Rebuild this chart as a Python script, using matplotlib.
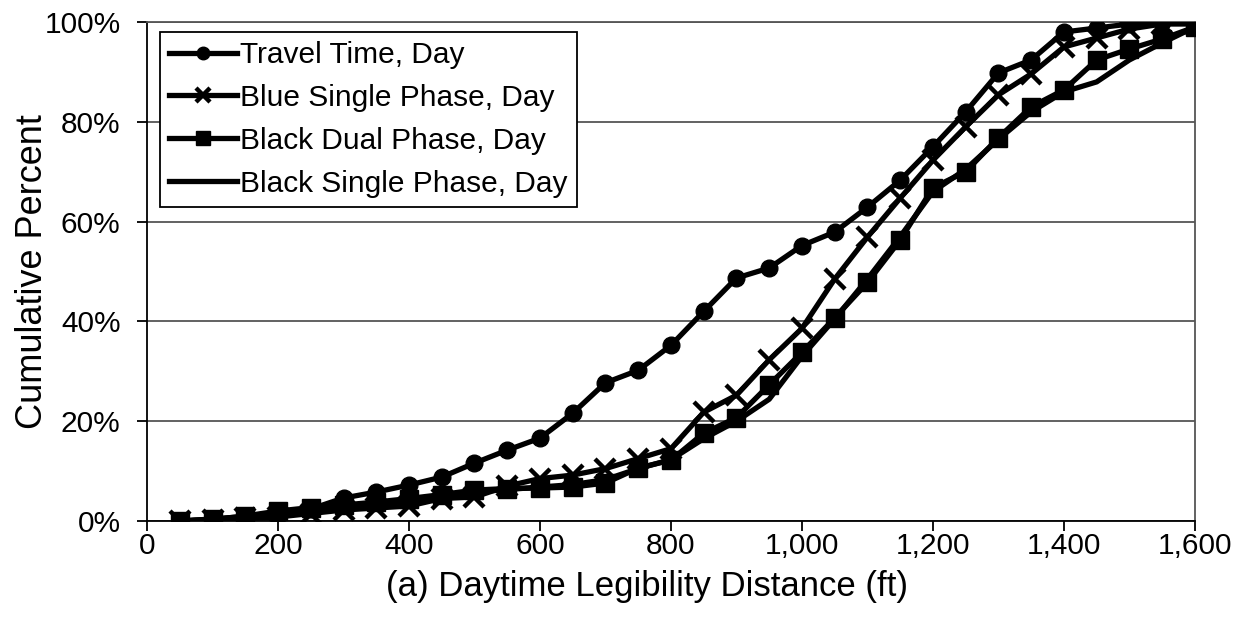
import matplotlib
matplotlib.use("Agg")
import matplotlib.pyplot as plt
from matplotlib.ticker import FuncFormatter, MultipleLocator

plt.rcParams['font.family'] = ['Liberation Sans', 'DejaVu Sans']

distance = [50, 100, 150, 200, 250, 300, 350, 400, 450, 500, 550, 600, 650, 700, 750, 800,
            850, 900, 950, 1000, 1050, 1100, 1150, 1200, 1250, 1300, 1350, 1400, 1450, 1500, 1550, 1600]

travel_time = [0, 0.4, 0.9, 1.6, 2.4, 4.6, 5.8, 7.2, 8.8, 11.6, 14.2, 16.6, 21.6, 27.7, 30.2, 35.2,
               42.0, 48.7, 50.7, 55.2, 57.9, 62.9, 68.3, 75.0, 82.0, 89.8, 92.4, 98.0, 98.8, 99.6, 100, 100]

blue_single = [0, 0.2, 0.5, 0.8, 1.5, 2.2, 2.6, 3.0, 4.5, 4.8, 7.0, 8.5, 9.2, 10.5, 12.5, 14.5,
               21.8, 25.2, 32.3, 38.6, 48.5, 56.9, 64.7, 72.3, 79.0, 85.4, 89.6, 95.0, 96.8, 98.6, 99.6, 99.6]

black_dual = [0, 0.3, 1.0, 2.0, 2.7, 3.2, 3.8, 4.5, 5.3, 6.2, 6.5, 6.6, 6.8, 7.6, 10.6, 12.2,
              17.6, 20.7, 27.3, 33.8, 40.7, 47.8, 56.3, 66.8, 70.0, 76.8, 83.0, 86.4, 92.4, 94.6, 96.6, 99.0]

black_single = [0, 0.3, 0.8, 1.5, 2.3, 2.8, 3.3, 4.0, 4.8, 5.8, 6.3, 6.8, 7.3, 8.3, 10.5, 12.3,
                16.5, 20.0, 24.4, 33.0, 40.5, 48.5, 57.0, 66.0, 70.5, 76.5, 82.0, 86.0, 88.0, 92.4, 95.8, 99.0]

labels = ["Travel Time, Day", "Blue Single Phase, Day", "Black Dual Phase, Day", "Black Single Phase, Day"]

fig = plt.figure(figsize=(12.46, 6.22), dpi=100)
ax = fig.add_axes([0.118, 0.1624, 0.841, 0.8022])

lw = 3.8
ax.plot(distance, travel_time, color='black', lw=lw, marker='o', markersize=12, label=labels[0], zorder=3)
ax.plot(distance, blue_single, color='black', lw=lw, marker='x', markersize=14, markeredgewidth=3.2,
        label=labels[1], zorder=3)
ax.plot(distance, black_dual, color='black', lw=lw, marker='s', markersize=12.5, label=labels[2], zorder=3)
ax.plot(distance, black_single, color='black', lw=lw, label=labels[3], zorder=3)

ax.set_xlim(0, 1600)
ax.set_ylim(0, 100)
ax.xaxis.set_major_locator(MultipleLocator(200))
ax.yaxis.set_major_locator(MultipleLocator(20))
ax.xaxis.set_major_formatter(FuncFormatter(lambda v, p: f"{int(v):,}"))
ax.yaxis.set_major_formatter(FuncFormatter(lambda v, p: f"{int(v)}%"))

ax.grid(axis='y', color='#555555', lw=1.3, zorder=1)
ax.set_axisbelow(True)
for s in ['top', 'right']:
    ax.spines[s].set_color('#555555')
    ax.spines[s].set_linewidth(1.3)
for s in ['left', 'bottom']:
    ax.spines[s].set_color('black')
    ax.spines[s].set_linewidth(1.3)

ax.tick_params(axis='both', direction='out', length=7, width=1.3, labelsize=21.5, colors='black')
ax.tick_params(axis='x', pad=1)
ax.tick_params(axis='y', pad=12)

ax.set_xlabel("(a) Daytime Legibility Distance (ft)", fontsize=25)
ax.xaxis.set_label_coords((647 - 147) / 1048, -0.098)
ax.set_ylabel("Cumulative Percent", fontsize=26)
ax.yaxis.set_label_coords(-0.093, 0.5)

leg = ax.legend(loc='upper left', bbox_to_anchor=(0.012, 0.98), fontsize=21.5, frameon=True, fancybox=False,
                edgecolor='black', framealpha=1, handlelength=2.3, handletextpad=0.1, borderpad=0.3,
                labelspacing=0.5, borderaxespad=0, markerscale=0.75)
leg.get_frame().set_linewidth(1.3)
leg.set_zorder(5)

fig.savefig("out.png", dpi=100, facecolor='white')
